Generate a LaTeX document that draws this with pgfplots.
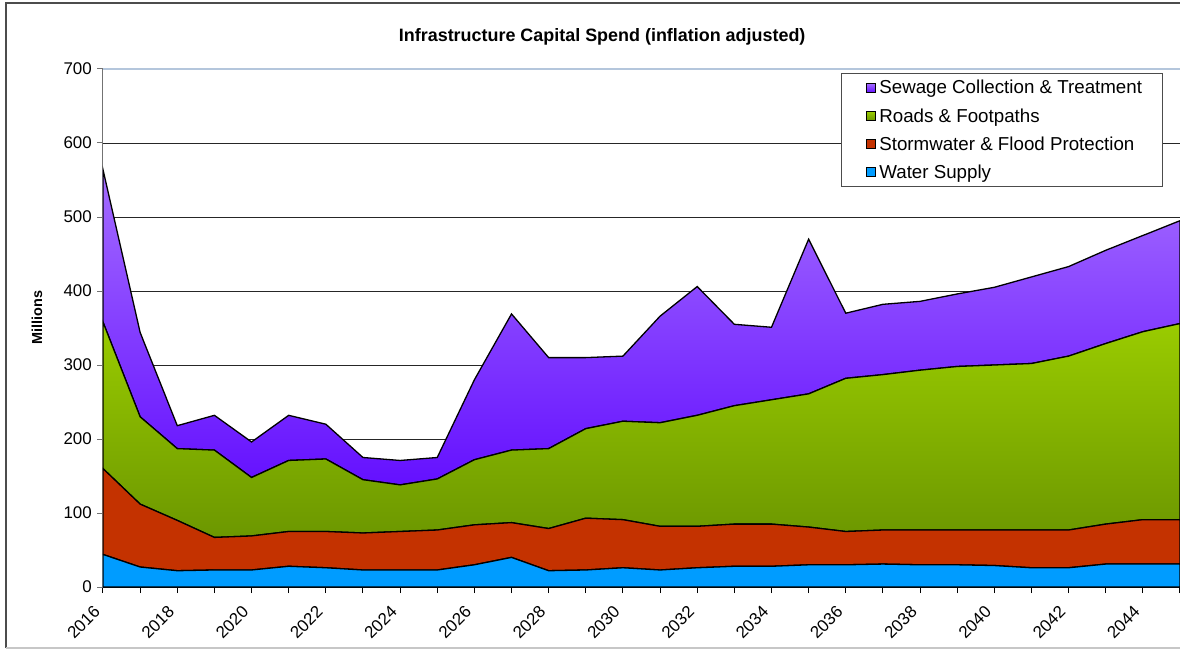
\documentclass[border=0pt]{standalone}
\usepackage{pgfplots}
\pgfplotsset{compat=1.18}
\usepackage{pgfplotstable}
\usepackage{fontspec}
\setmainfont{Liberation Sans}
\definecolor{sewTop}{HTML}{A46CFF}
\definecolor{sewBot}{HTML}{6410FF}
\definecolor{rdTop}{HTML}{9ACC00}
\definecolor{rdBot}{HTML}{6C9700}
\definecolor{stormC}{HTML}{C43200}
\definecolor{waterC}{HTML}{009CFF}
\definecolor{topLine}{HTML}{B4C6DC}

\pgfplotstableread{
year water storm roads sewage
2016 44 116 198 206
2017 27 85 118 114
2018 22 68 97 31
2019 23 44 118 47
2020 23 46 79 48
2021 28 47 96 61
2022 26 49 98 47
2023 23 50 72 30
2024 23 52 63 33
2025 23 54 69 29
2026 30 54 88 108
2027 40 47 98 184
2028 22 57 108 123
2029 23 70 121 96
2030 26 65 133 88
2031 23 59 140 144
2032 26 56 150 174
2033 28 57 160 110
2034 28 57 168 98
2035 30 51 180 209
2036 30 45 207 88
2037 31 46 210 95
2038 30 47 216 93
2039 30 47 221 98
2040 29 48 223 105
2041 26 51 225 117
2042 26 51 235 121
2043 31 54 244 126
2044 31 60 254 130
2045 31 60 265 139
}\datatable

\begin{document}
\begin{tikzpicture}
\path[use as bounding box] (-103bp,-64bp) rectangle (1077bp,587bp);
\draw[black!70, line width=1.5bp] (-97bp,-61bp) -- (-97bp,584bp) -- (1090bp,584bp);
\draw[black!22, line width=2bp] (-97bp,-61bp) -- (1090bp,-61bp);
\begin{axis}[
  scale only axis, width=1077bp, height=518bp,
  xmin=2016, xmax=2045, ymin=0, ymax=700,
  stack plots=y,
  axis x line*=bottom, axis y line*=left,
  x axis line style={black, line width=1.3bp, -},
  y axis line style={black!55, line width=1bp, -},
  xtick={2016,2018,...,2044},
  minor xtick={2017,2019,...,2045},
  ytick={0,100,...,700},
  ymajorgrids,
  grid style={black!85, line width=0.8bp},
  tick align=outside,
  major tick length=6bp, minor tick length=6bp,
  x tick style={black, line width=1bp},
  y tick style={black!55, line width=1bp},
  /pgf/number format/assume math mode=true,
  /pgf/number format/1000 sep={},
  xticklabel style={font=\fontsize{17}{20}\selectfont, xshift=-6bp, yshift=-16bp, rotate=45, anchor=east, inner sep=0bp},
  yticklabel style={font=\fontsize{17}{20}\selectfont, anchor=east, inner sep=1bp, xshift=-4bp},
  title={\bfseries Infrastructure Capital Spend (inflation adjusted)},
  title style={font=\fontsize{18}{21}\selectfont, at={(axis description cs:0.4635,1)}, anchor=base, yshift=22bp},
  ylabel={\bfseries Millions},
  ylabel style={font=\fontsize{14.5}{16}\selectfont, at={(axis description cs:-0.0613,0.52)}, anchor=center},
  reverse legend,
  legend cell align=left,
  legend style={at={(axis description cs:0.6852,0.9923)}, anchor=north west,
    draw=black!70, line width=0.8bp, font=\fontsize{18.8}{22}\selectfont,
    inner xsep=4bp, inner ysep=5bp, row sep=9bp, fill=white},
  legend image code/.code={\pgfpathrectangle{\pgfpointorigin}{\pgfqpoint{32bp}{0.1bp}}\pgfusepath{discard}\draw[#1,draw=black,line width=0.7bp] (21bp,-4.5bp) rectangle (30bp,4.5bp);},
]
\addplot[fill=waterC, draw=black, line width=1.3bp] table[x=year,y=water]{\datatable} \closedcycle;
\addlegendentry{Water Supply}
\addplot[fill=stormC, draw=black, line width=1.3bp] table[x=year,y=storm]{\datatable} \closedcycle;
\addlegendentry{Stormwater \& Flood Protection}
\addplot[top color=rdTop, bottom color=rdBot, draw=black, line width=1.3bp] table[x=year,y=roads]{\datatable} \closedcycle;
\addlegendentry{Roads \& Footpaths}
\addplot[top color=sewTop, bottom color=sewBot, draw=black, line width=1.3bp] table[x=year,y=sewage]{\datatable} \closedcycle;
\addlegendentry{Sewage Collection \& Treatment\kern14bp}
\draw[topLine, line width=1.5bp] (rel axis cs:0,1) -- (rel axis cs:1,1);
\end{axis}
\end{tikzpicture}
\end{document}
